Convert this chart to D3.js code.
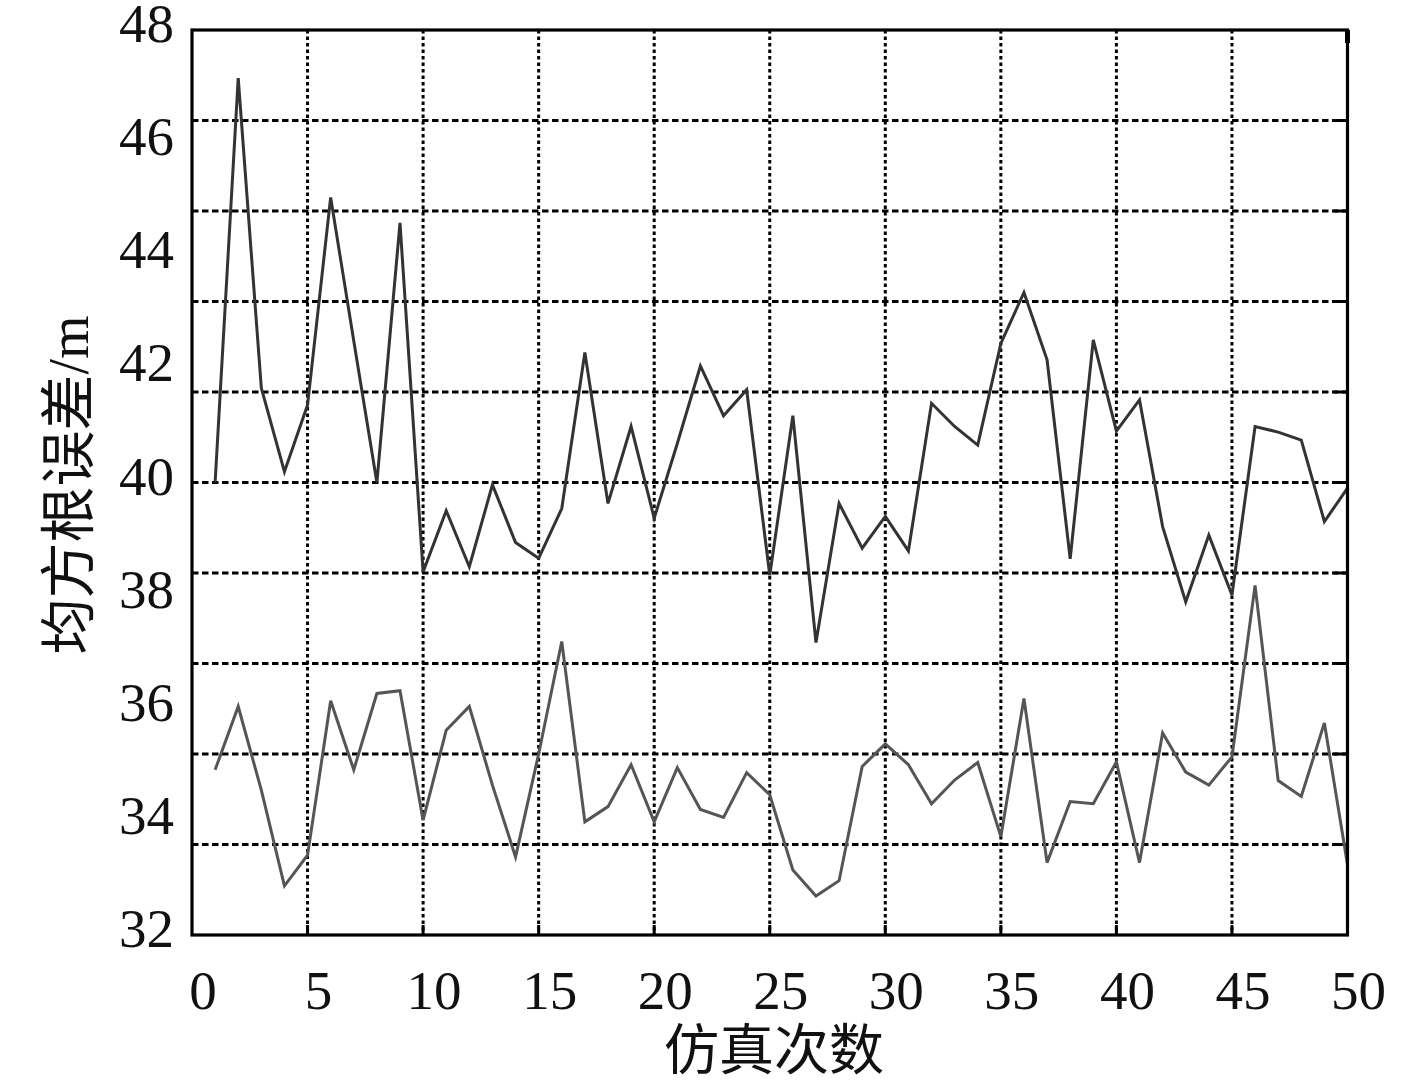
<!DOCTYPE html>
<html>
<head>
<meta charset="utf-8">
<script src="https://cdn.jsdelivr.net/npm/d3@7"></script>
<style>
  html, body { margin: 0; padding: 0; background: #fff; }
  svg { display: block; }
</style>
</head>
<body>
<svg id="chart" width="1417" height="1082"></svg>
<script>
// ---- data ----
const runs = d3.range(1, 51);
const upperSeries = [
  40.0, 47.15, 41.67, 40.19, 41.37, 45.04, 42.5, 40.0, 44.59, 38.42,
  39.5, 38.51, 39.96, 38.94, 38.66, 39.54, 42.3, 39.63, 40.99, 39.37,
  40.69, 42.06, 41.18, 41.64, 38.36, 41.18, 37.17, 39.63, 38.84, 39.4,
  38.79, 41.4, 40.99, 40.66, 42.46, 43.36, 42.17, 38.65, 42.52, 40.91,
  41.46, 39.22, 37.89, 39.07, 38.01, 40.99, 40.89, 40.75, 39.31, 39.9
];
const lowerSeries = [
  34.92, 36.04, 34.56, 32.87, 33.41, 36.14, 34.92, 36.27, 36.32, 34.03,
  35.62, 36.04, 34.65, 33.38, 35.2, 37.19, 34.0, 34.27, 35.01, 34.0,
  34.96, 34.22, 34.08, 34.87, 34.48, 33.15, 32.69, 32.96, 34.98, 35.38,
  35.01, 34.32, 34.74, 35.05, 33.74, 36.18, 33.28, 34.36, 34.32, 35.06,
  33.28, 35.57, 34.88, 34.65, 35.15, 38.18, 34.73, 34.45, 35.75, 33.24
];
const xTickLabels = [0, 5, 10, 15, 20, 25, 30, 35, 40, 45, 50];
const yTickLabels = [32, 34, 36, 38, 40, 42, 44, 46, 48];
const xTitle = "仿真次数";
const yTitle = "均方根误差/m";

// ---- layout ----
const pL = 192, pR = 1347.5, pT = 30, pB = 935;
const x = d3.scaleLinear().domain([0, 50]).range([pL, pR]);
const y = d3.scaleLinear().domain([32, 48]).range([pB, pT]);
const serif = '"Times New Roman", "Liberation Serif", "Noto Sans CJK SC", serif';
const fs = 55;

const svg = d3.select("#chart");

// grid (10 equal divisions on each axis)
const gridX = d3.range(1, 10).map(k => 50 * k / 10);
const gridY = d3.range(1, 10).map(k => 32 + 16 * k / 10);

svg.append("g").selectAll("line").data(gridY).join("line")
  .attr("x1", pL).attr("x2", pR)
  .attr("y1", d => y(d)).attr("y2", d => y(d))
  .attr("stroke", "#000").attr("stroke-width", 3)
  .attr("stroke-dasharray", "6.5,3.5");

svg.append("g").selectAll("line").data(gridX).join("line")
  .attr("x1", d => x(d)).attr("x2", d => x(d))
  .attr("y1", pT).attr("y2", pB)
  .attr("stroke", "#000").attr("stroke-width", 3)
  .attr("stroke-dasharray", "3.5,3");

// inward ticks on right and bottom
svg.append("g").selectAll("line").data(gridY).join("line")
  .attr("x1", pR - 14).attr("x2", pR)
  .attr("y1", d => y(d)).attr("y2", d => y(d))
  .attr("stroke", "#000").attr("stroke-width", 3);
svg.append("g").selectAll("line").data(gridX).join("line")
  .attr("x1", d => x(d)).attr("x2", d => x(d))
  .attr("y1", pB - 10).attr("y2", pB)
  .attr("stroke", "#000").attr("stroke-width", 3);

// lines
const line = d3.line().x((d, i) => x(runs[i])).y(d => y(d));
svg.append("path").datum(lowerSeries)
  .attr("d", line).attr("fill", "none")
  .attr("stroke", "#555").attr("stroke-width", 3).attr("stroke-linejoin", "miter");
svg.append("path").datum(upperSeries)
  .attr("d", line).attr("fill", "none")
  .attr("stroke", "#333").attr("stroke-width", 3).attr("stroke-linejoin", "miter");

// frame
svg.append("rect")
  .attr("x", pL).attr("y", pT)
  .attr("width", pR - pL).attr("height", pB - pT)
  .attr("fill", "none").attr("stroke", "#000").attr("stroke-width", 3.2);
// small corner mark top-right
svg.append("line")
  .attr("x1", pR).attr("x2", pR)
  .attr("y1", pT).attr("y2", pT + 13)
  .attr("stroke", "#000").attr("stroke-width", 5);

// tick labels
svg.append("g").selectAll("text").data(yTickLabels).join("text")
  .attr("x", 174).attr("y", d => y(d) + 12)
  .attr("text-anchor", "end")
  .attr("font-family", serif).attr("font-size", fs)
  .attr("fill", "#111")
  .text(d => d);

svg.append("g").selectAll("text").data(xTickLabels).join("text")
  .attr("x", d => x(d) + 11).attr("y", 1009)
  .attr("text-anchor", "middle")
  .attr("font-family", serif).attr("font-size", fs)
  .attr("fill", "#111")
  .text(d => d);

// axis titles
svg.append("text")
  .attr("x", 774).attr("y", 1069)
  .attr("text-anchor", "middle")
  .attr("font-family", serif).attr("font-size", 55)
  .attr("fill", "#111")
  .text(xTitle);

svg.append("text")
  .attr("transform", "translate(88,485) rotate(-90)")
  .attr("text-anchor", "middle")
  .attr("font-family", serif).attr("font-size", 56)
  .attr("fill", "#111")
  .text(yTitle);
</script>
</body>
</html>
